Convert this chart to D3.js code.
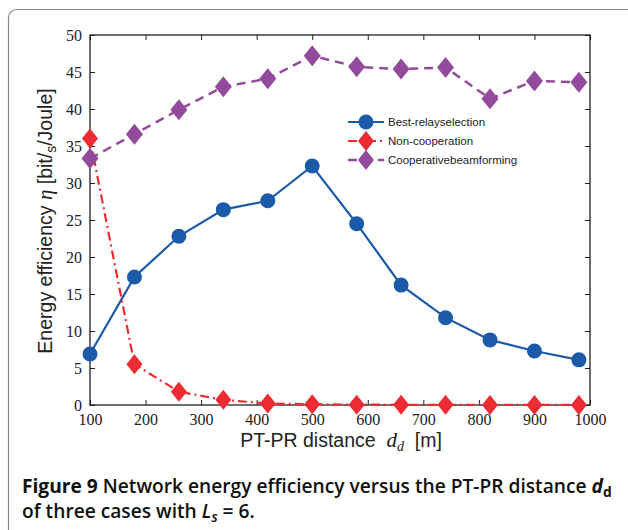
<!DOCTYPE html>
<html><head><meta charset="utf-8">
<script src="https://cdn.jsdelivr.net/npm/d3@7"></script>
<style>body{margin:0;background:#fff}svg{display:block}</style>
</head><body>
<script>
const distances = [100,180,260,340,420,500,580,660,740,820,900,980];
const bestRelay = [6.9,17.3,22.8,26.4,27.6,32.3,24.5,16.2,11.8,8.8,7.3,6.1];
const nonCoop = [36.0,5.5,1.8,0.7,0.2,0.1,0.05,0.03,0.02,0.01,0.01,0.01];
const coopBeam = [33.3,36.6,39.9,43.0,44.1,47.2,45.7,45.4,45.6,41.4,43.8,43.6];
const xTicks = [100,200,300,400,500,600,700,800,900,1000];
const yTicks = [0,5,10,15,20,25,30,35,40,45,50];
const seriesNames = ["Best-relayselection","Non-cooperation","Cooperativebeamforming"];

const W=628,H=530;
const svg=d3.select("body").append("svg").attr("width",W).attr("height",H);
svg.append("rect").attr("x",8.5).attr("y",9.5).attr("width",640).attr("height",560)
  .attr("rx",8).attr("fill","none").attr("stroke","#8a8a8a").attr("stroke-width",1.2);

const L=90,R=590,T=35,B=405;
const x=d3.scaleLinear().domain([100,1000]).range([L,R]);
const y=d3.scaleLinear().domain([0,50]).range([B,T]);

const g=svg.append("g");
const tickFont="'Liberation Serif','Times New Roman',serif";
const fmt=d3.format("d");
const ax=g.append("g").attr("transform",`translate(0,${B})`).call(d3.axisBottom(x).tickValues(xTicks).tickFormat(fmt).tickSizeInner(-5).tickSizeOuter(0).tickPadding(8));
const axT=g.append("g").attr("transform",`translate(0,${T})`).call(d3.axisTop(x).tickValues(xTicks).tickSizeInner(-5).tickSizeOuter(0).tickFormat(""));
const ay=g.append("g").attr("transform",`translate(${L},0)`).call(d3.axisLeft(y).tickValues(yTicks).tickFormat(fmt).tickSizeInner(-5).tickSizeOuter(0).tickPadding(8));
const ayR=g.append("g").attr("transform",`translate(${R},0)`).call(d3.axisRight(y).tickValues(yTicks).tickSizeInner(-5).tickSizeOuter(0).tickFormat(""));
[ax,axT,ay,ayR].forEach(a=>{a.select(".domain").remove();a.selectAll("line").attr("stroke","#222");
  a.selectAll("text").attr("font-family",tickFont).attr("font-size",16).attr("fill","#222");});
ax.selectAll("text").attr("dy","0.75em");
g.append("rect").attr("x",L).attr("y",T).attr("width",R-L).attr("height",B-T).attr("fill","none").attr("stroke","#222").attr("stroke-width",1.3);

const cols=["#1b5aa8","#ec2b32","#944a9c"];
const line=d3.line().x((d,i)=>x(distances[i])).y(d=>y(d));
const diamond=(hw,hh)=>`M0,${-hh}L${hw},0L0,${hh}L${-hw},0Z`;

g.append("path").datum(coopBeam).attr("d",line).attr("fill","none").attr("stroke",cols[2]).attr("stroke-width",2.5).attr("stroke-dasharray","9,6");
g.append("path").datum(bestRelay).attr("d",line).attr("fill","none").attr("stroke",cols[0]).attr("stroke-width",2.2);
g.append("path").datum(nonCoop).attr("d",line).attr("fill","none").attr("stroke",cols[1]).attr("stroke-width",2.2).attr("stroke-dasharray","9,4,2,4");

g.selectAll(".pm").data(coopBeam).join("path").attr("d",diamond(8.5,10.5))
  .attr("transform",(d,i)=>`translate(${x(distances[i])},${y(d)})`).attr("fill",cols[2]);
g.selectAll(".bm").data(bestRelay).join("circle").attr("cx",(d,i)=>x(distances[i])).attr("cy",d=>y(d)).attr("r",7.5).attr("fill",cols[0]);
g.selectAll(".rm").data(nonCoop).join("path").attr("d",diamond(8,10))
  .attr("transform",(d,i)=>`translate(${x(distances[i])},${y(d)})`).attr("fill",cols[1]);

const lg=svg.append("g").attr("transform","translate(348,122)");
const lstyles=[{dash:null,w:2.2},{dash:"9,4,2,4",w:2.2},{dash:"9,6",w:2.5}];
seriesNames.forEach((n,i)=>{
  const row=lg.append("g").attr("transform",`translate(0,${i*19})`);
  row.append("line").attr("x1",0).attr("x2",36).attr("stroke",cols[i]).attr("stroke-width",lstyles[i].w).attr("stroke-dasharray",lstyles[i].dash);
  if(i===0) row.append("circle").attr("cx",18).attr("r",7.5).attr("fill",cols[0]);
  else row.append("path").attr("d",diamond(8,10)).attr("transform","translate(18,0)").attr("fill",cols[i]);
  row.append("text").attr("x",40).attr("y",4).attr("font-family","'Liberation Sans',Arial,sans-serif").attr("font-size",11.5).attr("fill","#222").text(n);
});

const yl=svg.append("text").attr("transform","translate(52,221) rotate(-90)").attr("text-anchor","middle")
  .attr("font-family","'Liberation Sans',Arial,sans-serif").attr("font-size",19.5).attr("fill","#222");
yl.append("tspan").text("Energy efficiency ");
yl.append("tspan").attr("font-family",tickFont).attr("font-style","italic").attr("font-size",21).text("η");
yl.append("tspan").text(" [bit/");
yl.append("tspan").attr("font-size",14).attr("dy",4).text("s");
yl.append("tspan").attr("dy",-4).text("/Joule]");

const xl=svg.append("text").attr("x",341).attr("y",447).attr("text-anchor","middle")
  .attr("font-family","'Liberation Sans',Arial,sans-serif").attr("font-size",19.5).attr("fill","#222");
xl.append("tspan").text("PT-PR distance\u00a0\u00a0");
xl.append("tspan").attr("font-family",tickFont).attr("font-style","italic").attr("font-size",21).text("d");
xl.append("tspan").attr("font-family",tickFont).attr("font-style","italic").attr("font-size",14).attr("dy",4).text("d");
xl.append("tspan").attr("dy",-4).text("\u00a0\u00a0[m]");

const capFont="'Open Sans','Noto Sans',sans-serif";
const c1=svg.append("text").attr("x",22).attr("y",493).attr("font-family",capFont).attr("font-size",17).attr("font-weight",700).attr("fill","#111");
c1.append("tspan").text("Figure 9 ");
c1.append("tspan").attr("font-weight",600).text("Network energy efficiency versus the PT-PR distance ");
c1.append("tspan").attr("font-style","italic").text("d");
c1.append("tspan").attr("font-size",12).attr("dy",4).text("d");
const c2=svg.append("text").attr("x",22).attr("y",518).attr("font-family",capFont).attr("font-size",17).attr("font-weight",600).attr("fill","#111");
c2.append("tspan").text("of three cases with ");
c2.append("tspan").attr("font-style","italic").text("L");
c2.append("tspan").attr("font-style","italic").attr("font-size",12).attr("dy",4).text("s");
c2.append("tspan").attr("dy",-4).text(" = 6.");
// fit caption width to the reference (line 1 ends near x=612)
const w1=c1.node().getComputedTextLength();
const fs=17*590/w1;
c1.attr("font-size",fs); c2.attr("font-size",fs);
c1.selectAll("tspan").filter(function(){return this.getAttribute("font-size")==="12";}).attr("font-size",fs*0.72);
c2.selectAll("tspan").filter(function(){return this.getAttribute("font-size")==="12";}).attr("font-size",fs*0.72);
</script>
</body></html>
